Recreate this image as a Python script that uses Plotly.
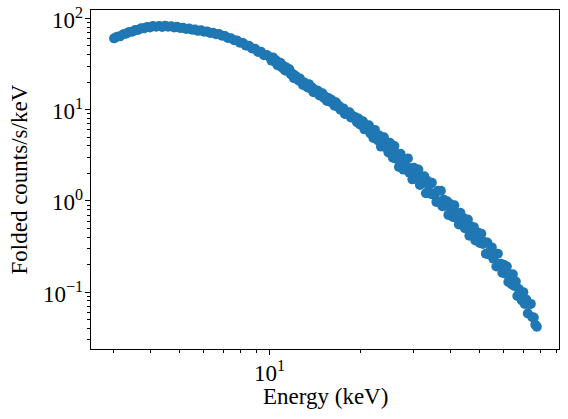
import math
import plotly.graph_objects as go

# Energy bins (keV)
energy = [3.02, 3.09, 3.16, 3.24, 3.31, 3.39, 3.47, 3.55, 3.63, 3.72, 3.80, 3.89, 3.98, 4.07, 4.17,
          4.27, 4.37, 4.47, 4.57, 4.68, 4.79, 4.90, 5.01, 5.13, 5.25, 5.37, 5.50, 5.62, 5.75, 5.89,
          6.03, 6.17, 6.31, 6.46, 6.61, 6.76, 6.92, 7.08, 7.24, 7.41, 7.59, 7.76, 7.94, 8.13, 8.32,
          8.51, 8.71, 8.91, 9.12, 9.33, 9.55, 9.77,
          10.00, 10.12, 10.23, 10.35, 10.47, 10.59, 10.72, 10.84, 10.96, 11.09,
          11.22, 11.35, 11.48, 11.61, 11.75, 11.89, 12.02, 12.16, 12.30, 12.45,
          12.59, 12.74, 12.88, 13.03, 13.18, 13.34, 13.49, 13.65, 13.80, 13.96,
          14.13, 14.29, 14.45, 14.62, 14.79, 14.96, 15.14, 15.31, 15.49, 15.67,
          15.85, 16.03, 16.22, 16.41, 16.60, 16.79, 16.98, 17.18, 17.38, 17.58,
          17.78, 17.99, 18.20, 18.41, 18.62, 18.84, 19.05, 19.28, 19.50, 19.72,
          19.95, 20.18, 20.42, 20.65, 20.89, 21.13, 21.38, 21.63, 21.88, 22.13,
          22.39, 22.65, 22.91, 23.17, 23.44, 23.71, 23.99, 24.27, 24.55, 24.83,
          25.12, 25.41, 25.70, 26.00, 26.30, 26.61, 26.92, 27.23, 27.54, 27.86,
          28.18, 28.51, 28.84, 29.17, 29.51, 29.85, 30.20, 30.55, 30.90, 31.26,
          31.62, 31.99, 32.36, 32.73, 33.11, 33.50, 33.88, 34.28, 34.67, 35.08,
          35.48, 35.89, 36.31, 36.73, 37.15, 37.58, 38.02, 38.46, 38.90, 39.36,
          39.81, 40.27, 40.74, 41.21, 41.69, 42.17, 42.66, 43.15, 43.65, 44.16,
          44.67, 45.19, 45.71, 46.24, 46.77, 47.32, 47.86, 48.42, 48.98, 49.55,
          50.12, 50.70, 51.29, 51.88, 52.48, 53.09, 53.70, 54.33, 54.95, 55.59,
          56.23, 56.89, 57.54, 58.21, 58.88, 59.57, 60.26, 60.95, 61.66, 62.37,
          63.10, 63.83, 64.57, 65.31, 66.07, 66.83, 67.61, 68.39, 69.18, 69.98,
          70.79, 71.61, 72.44, 73.28, 74.13, 74.99, 75.86, 76.74, 77.62]

# Folded counts/s/keV
counts = [60.3, 62.7, 63.4, 67.0, 67.6, 71.0, 71.1, 74.5, 74.6, 78.0, 77.6, 80.4, 79.3, 82.2, 80.7,
          82.6, 80.5, 83.0, 80.9, 81.8, 79.4, 80.7, 78.5, 78.9, 76.4, 77.4, 75.0, 75.3, 72.9, 73.8,
          71.3, 71.9, 69.2, 69.5, 66.8, 67.1, 64.3, 64.1, 60.8, 60.5, 57.5, 57.3, 54.0, 53.6, 50.2,
          50.1, 46.7, 46.5, 42.7, 43.1, 39.4, 39.6,
          37.3, 34.4, 37.3, 33.7, 34.7, 30.6, 32.0, 32.5, 28.9, 30.0,
          26.8, 28.9, 26.4, 27.6, 24.2, 24.6, 22.1, 23.5, 21.9, 20.8,
          21.9, 20.0, 18.6, 19.8, 18.9, 17.5, 19.0, 17.0, 17.6, 15.5,
          16.5, 15.5, 16.1, 14.3, 14.6, 15.1, 13.4, 13.8, 12.4, 13.4,
          12.2, 12.8, 11.9, 11.0, 12.0, 10.8, 11.0, 9.98, 10.3, 10.3,
          8.95, 9.43, 8.88, 9.34, 8.19, 8.55, 8.07, 8.22, 7.26, 7.98,
          6.87, 7.14, 7.43, 6.07, 6.69, 6.11, 6.72, 5.47, 6.00, 4.88,
          5.99, 5.08, 4.59, 5.20, 3.93, 4.53, 4.97, 3.88, 4.19, 3.38,
          4.34, 3.44, 2.97, 3.98, 2.89, 3.24, 2.35, 3.29, 2.78, 2.20,
          2.82, 2.33, 2.92, 2.03, 2.28, 1.72, 2.30, 1.95, 1.76, 2.21,
          1.49, 1.83, 1.59, 1.86, 1.21, 1.65, 1.46, 1.20, 1.58, 1.17,
          1.20, 0.970, 1.29, 0.985, 1.29, 0.872, 1.03, 0.883, 0.993, 0.702,
          0.927, 0.808, 0.666, 0.893, 0.655, 0.722, 0.550, 0.740, 0.597, 0.647,
          0.502, 0.566, 0.625, 0.415, 0.526, 0.441, 0.515, 0.369, 0.415, 0.448,
          0.346, 0.436, 0.337, 0.355, 0.263, 0.349, 0.259, 0.282, 0.309, 0.233,
          0.264, 0.191, 0.264, 0.202, 0.204, 0.163, 0.199, 0.159, 0.191, 0.129,
          0.156, 0.123, 0.157, 0.117, 0.131, 0.0908, 0.108, 0.0966, 0.0811, 0.100,
          0.0743, 0.0831, 0.0583, 0.0734, 0.0743, 0.0531, 0.0528, 0.0439, 0.0417]

y_tickvals = [0.1, 1, 10, 100]
y_ticktext = ["10<sup>\u22121</sup>", "10<sup>0</sup>", "10<sup>1</sup>", "10<sup>2</sup>"]
x_tickvals = [10]
x_ticktext = ["10<sup>1</sup>"]
x_minor = [3, 4, 5, 6, 7, 8, 9, 20, 30, 40, 50, 60, 70, 80, 90]
y_minor = [0.03, 0.04, 0.05, 0.06, 0.07, 0.08, 0.09,
           0.2, 0.3, 0.4, 0.5, 0.6, 0.7, 0.8, 0.9,
           2, 3, 4, 5, 6, 7, 8, 9, 20, 30, 40, 50, 60, 70, 80, 90]

FONT = "Liberation Serif"
TICK_FONT = dict(family=FONT, size=23, color="black")
TITLE_FONT = dict(family=FONT, size=23, color="black")

fig = go.Figure()
fig.add_trace(go.Scatter(
    x=energy, y=counts, mode="markers",
    marker=dict(color="#1f77b4", size=10, line=dict(width=0)),
    showlegend=False,
))

axis_common = dict(
    showline=True, linecolor="black", linewidth=1, mirror=True,
    ticks="outside", ticklen=5, tickwidth=1, tickcolor="black",
    showgrid=False, zeroline=False, showticklabels=False,
)

fig.update_xaxes(
    type="log", range=[0.403, 1.964],
    tickmode="array", tickvals=x_tickvals,
    minor=dict(tickmode="array", tickvals=x_minor, ticks="outside", ticklen=3,
               tickwidth=0.8, tickcolor="black", showgrid=False),
    **axis_common,
)
fig.update_yaxes(
    type="log", range=[-1.623, 2.091],
    tickmode="array", tickvals=y_tickvals,
    minor=dict(tickmode="array", tickvals=y_minor, ticks="outside", ticklen=3,
               tickwidth=0.8, tickcolor="black", showgrid=False),
    **axis_common,
)

annotations = []
for v, t in zip(y_tickvals, y_ticktext):
    annotations.append(dict(
        text=t, xref="paper", x=0, xanchor="right", xshift=-6,
        yref="y", y=math.log10(v), yanchor="middle",
        showarrow=False, font=TICK_FONT,
    ))
for v, t in zip(x_tickvals, x_ticktext):
    annotations.append(dict(
        text=t, xref="paper" if False else "x", x=math.log10(v), xanchor="center",
        yref="paper", y=0, yanchor="top", yshift=-6,
        showarrow=False, font=TICK_FONT,
    ))
annotations.append(dict(
    text="Energy (keV)", xref="paper", x=0.5, xanchor="center",
    yref="paper", y=0, yanchor="middle", yshift=-47,
    showarrow=False, font=TITLE_FONT,
))
annotations.append(dict(
    text="Folded counts/s/keV", textangle=-90, xref="paper", x=0, xanchor="center", xshift=-72,
    yref="paper", y=0.5, yanchor="middle",
    showarrow=False, font=TITLE_FONT,
))

fig.update_layout(
    width=568, height=419,
    margin=dict(l=91, r=9, t=10, b=70),
    paper_bgcolor="white", plot_bgcolor="white",
    annotations=annotations,
)

fig.write_html("out.html")
